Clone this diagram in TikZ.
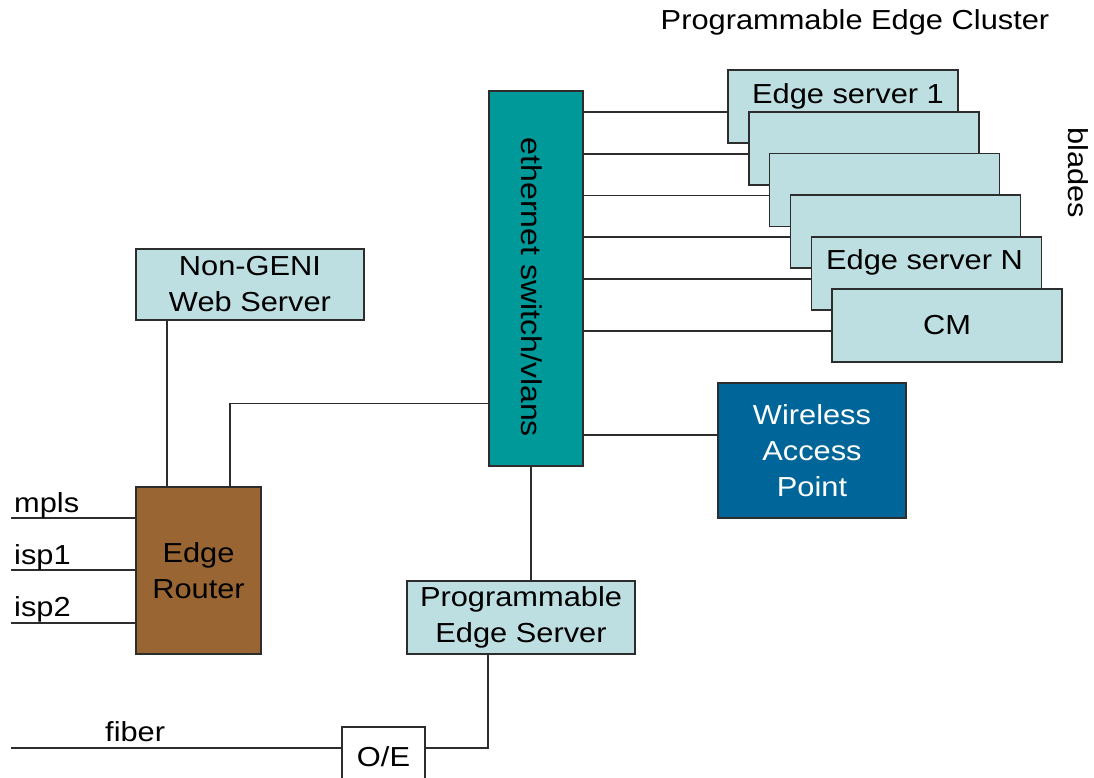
\documentclass[tikz,border=0pt]{standalone}
\usepackage{fontspec}
\setmainfont[FakeStretch=1.12]{Liberation Sans}
\definecolor{paleblue}{RGB}{190,223,226}
\definecolor{switchteal}{RGB}{0,153,153}
\definecolor{routerbrown}{RGB}{153,102,51}
\definecolor{apblue}{RGB}{0,102,153}
\definecolor{wirecol}{RGB}{45,45,45}
\begin{document}
\begin{tikzpicture}[x=1pt,y=-1pt,
  every node/.style={font=\fontsize{27.5}{36}\selectfont},
  box/.style={draw=wirecol, line width=1.2pt, inner sep=0pt, align=center},
  blade/.style={box, fill=paleblue, minimum width=230pt, minimum height=73pt},
  wire/.style={draw=wirecol, line width=1.2pt},
  lbl/.style={inner sep=0pt, align=center}]
\useasboundingbox[fill=white] (0,0) rectangle (1094,777);
\clip (0,0) rectangle (1094,777);

% ethernet switch
\node[box, fill=switchteal, minimum width=94pt, minimum height=375pt] (sw) at (536,278.5) {};
\node[lbl, rotate=-90, font=\fontsize{28.6}{36}\selectfont] (swtxt) at ([xshift=-4pt,yshift=-9pt]sw.center) {ethernet switch/vlans};

% cluster title and side label
\node[lbl] (title) at (855,22) {Programmable Edge Cluster};
\node[lbl, rotate=-90] (bladestxt) at (1078,173) {blades};

% blade stack, back to front
\node[blade] (es1) at (843,106.5) {};
\node[lbl] (es1txt) at ([xshift=5pt,yshift=-27pt]es1.north) {Edge server 1};
\node[blade] (b2) at (864,148.5) {};
\node[blade] (b3) at (884.5,190) {};
\node[blade] (b4) at (905.5,231.5) {};
\node[blade] (esN) at (926.5,273.5) {};
\node[lbl] (esNtxt) at ([xshift=-2pt,yshift=-26pt]esN.north) {Edge server N};
\node[blade] (cm) at (947,325.5) {};
\node[lbl] (cmtxt) at (cm.center) {CM};

% switch ports to the blades
\foreach \b in {es1,b2,b3,b4,esN,cm}
  \draw[wire] ([yshift=-5.5pt]\b.west -| sw.east) -- ([yshift=-5.5pt]\b.west);

% wireless access point
\node[box, fill=apblue, text=white, minimum width=188pt, minimum height=135pt] (wap) at (812,450.5) {Wireless\\Access\\Point};
\draw[wire] ([yshift=15.5pt]wap.west -| sw.east) -- ([yshift=15.5pt]wap.west);

% non-GENI web server
\node[box, fill=paleblue, minimum width=228pt, minimum height=71pt] (web) at (250,284.5) {Non-GENI\\Web Server};

% edge router
\node[box, fill=routerbrown, minimum width=125pt, minimum height=167pt] (rt) at (198.5,570.5) {Edge\\Router};
\draw[wire] ([xshift=-31.5pt]rt.north) -- ([xshift=-31.5pt]rt.north |- web.south);
\draw[wire] ([xshift=31.5pt]rt.north) |- ([yshift=63pt]sw.south west);

% uplinks into the router
\coordinate (mplsend) at (11,518);
\coordinate (isp1end) at (11,570);
\coordinate (isp2end) at (11,623);
\draw[wire] (mplsend) -- (mplsend -| rt.west);
\draw[wire] (isp1end) -- (isp1end -| rt.west);
\draw[wire] (isp2end) -- (isp2end -| rt.west);
\node[lbl, anchor=base west] (mplstxt) at (14,512) {mpls};
\node[lbl, anchor=base west] (isp1txt) at (14,564) {isp1};
\node[lbl, anchor=base west] (isp2txt) at (14,616) {isp2};

% programmable edge server
\node[box, fill=paleblue, minimum width=228pt, minimum height=73pt] (pes) at (521,617.5) {Programmable\\Edge Server};
\draw[wire] ([xshift=-5pt]sw.south) -- ([xshift=-5pt]sw.south |- pes.north);

% optical/electrical converter and fiber
\node[box, fill=white, minimum width=83pt, minimum height=60pt] (oe) at (383.5,757) {O/E};
\draw[wire] ([xshift=-33pt]pes.south) |- ([yshift=9pt]oe.east);
\coordinate (fiberend) at (11,748);
\draw[wire] (fiberend) -- ([yshift=9pt]oe.west);
\node[lbl, anchor=base west] (fibertxt) at (105,741) {fiber};
\end{tikzpicture}
\end{document}
